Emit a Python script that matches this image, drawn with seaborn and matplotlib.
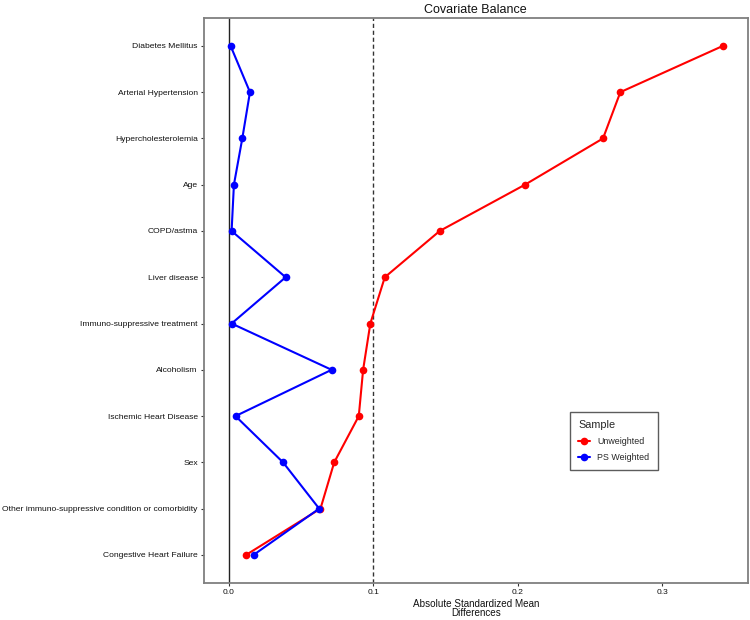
import matplotlib
matplotlib.use("Agg")
import matplotlib.pyplot as plt
import seaborn as sns
import pandas as pd
import numpy as np

covariates = [
    "Diabetes Mellitus", "Arterial Hypertension", "Hypercholesterolemia", "Age",
    "COPD/astma", "Liver disease", "Immuno-suppressive treatment", "Alcoholism",
    "Ischemic Heart Disease", "Sex",
    "Other immuno-suppressive condition or comorbidity", "Congestive Heart Failure",
]
unweighted = [0.342, 0.271, 0.259, 0.205, 0.146, 0.108, 0.098, 0.093, 0.090, 0.073, 0.0635, 0.012]
ps_weighted = [0.0013, 0.0147, 0.0094, 0.0036, 0.0020, 0.0394, 0.0020, 0.0712, 0.0047, 0.0376, 0.0626, 0.0172]
samples = ["Unweighted", "PS Weighted"]
x_ticks = [0.0, 0.1, 0.2, 0.3]

sns.set_theme(style="white")
plt.rcParams['font.family'] = ['Liberation Sans', 'DejaVu Sans']

rows = []
for s, vals in zip(samples, [unweighted, ps_weighted]):
    for i, (c, v) in enumerate(zip(covariates, vals)):
        rows.append({"Sample": s, "cov": c, "pos": i, "value": v})
df = pd.DataFrame(rows)

fig = plt.figure(figsize=(7.5, 6.2), dpi=100)
ax = fig.add_axes([0.272, 0.0602, 0.7247, 0.9106])

ax.axvline(0, color="#222222", lw=1.0, zorder=1)
ax.axvline(0.1, color="#333333", lw=1.0, ls=(0, (3, 2)), zorder=1)

sns.lineplot(data=df, x="value", y="pos", hue="Sample", hue_order=samples,
             palette={"Unweighted": "#ff0000", "PS Weighted": "#0000ff"},
             sort=False, orient="y", estimator=None, marker="o", markersize=5.5,
             markeredgewidth=0, linewidth=1.5, ax=ax, zorder=3)

ax.set_ylim(len(covariates) - 1 + 0.6, -0.6)
ax.set_yticks(range(len(covariates)))
ax.set_yticklabels(covariates)
ax.set_xlim(-0.0171, 0.359)
ax.set_xticks(x_ticks)
ax.set_xticklabels([f"{t:.1f}" for t in x_ticks])
ax.tick_params(axis="both", labelsize=6.1, colors="#333333", length=2.5, width=0.8,
               direction="out", left=True, bottom=True, pad=2)
ax.tick_params(axis="both", labelcolor="#111111")
for sp in ax.spines.values():
    sp.set_color("#7f7f7f")
    sp.set_linewidth(1.3)

ax.set_ylabel("")
ax.set_xlabel("Absolute Standardized Mean\nDifferences", fontsize=7.1, color="#111111",
              linespacing=0.95, labelpad=2)
ax.set_title("Covariate Balance", fontsize=9, color="#111111", pad=4)

leg = ax.legend(title="Sample", loc="upper left", bbox_to_anchor=(0.674, 0.302),
                fontsize=6.4, title_fontsize=7.8, frameon=True, fancybox=False,
                borderpad=0.9, labelspacing=0.8, handlelength=1.35, handletextpad=0.8,
                borderaxespad=0, alignment="left")
leg.get_frame().set_edgecolor("#333333")
leg.get_frame().set_linewidth(1.0)

fig.savefig("out.png", dpi=100)
